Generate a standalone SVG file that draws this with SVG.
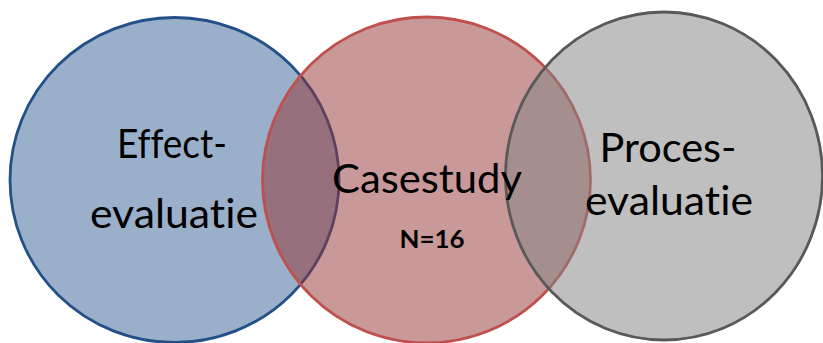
<svg xmlns="http://www.w3.org/2000/svg" width="823" height="343" viewBox="0 0 823 343">
  <style>
    .ring { stroke-width: 2.8; }
    .label { font-family: Lato, "Liberation Sans", sans-serif; fill: #000; text-anchor: middle; font-variant-ligatures: none; font-feature-settings: "liga" 0, "clig" 0; }
    .big { font-size: 41px; }
    .count { font-size: 25px; font-weight: bold; }
  </style>
  <rect width="823" height="343" fill="#ffffff"/>

  <g id="effect-evaluatie">
    <ellipse class="ring" cx="174.5" cy="180" rx="164.5" ry="162.5" fill="#9aafc9" stroke="#24508a"/>
  </g>

  <g id="casestudy">
    <ellipse class="ring" cx="426.5" cy="180" rx="164" ry="163" fill="#933131" fill-opacity="0.5" stroke="#c0504d"/>
  </g>

  <g id="proces-evaluatie">
    <ellipse class="ring" cx="664" cy="176" rx="158.5" ry="164" fill="#848484" fill-opacity="0.52" stroke="#595959"/>
  </g>

  <g id="labels">
    <text class="label big" x="172" y="158" textLength="110" lengthAdjust="spacingAndGlyphs">Effect-</text>
    <text class="label big" x="174" y="228" textLength="168" lengthAdjust="spacingAndGlyphs">evaluatie</text>
    <text class="label big" x="427" y="193" textLength="190" lengthAdjust="spacingAndGlyphs">Casestudy</text>
    <text class="label count" x="432" y="248" textLength="65" lengthAdjust="spacingAndGlyphs">N=16</text>
    <text class="label big" x="668" y="162" textLength="137" lengthAdjust="spacingAndGlyphs">Proces-</text>
    <text class="label big" x="669" y="215" textLength="168" lengthAdjust="spacingAndGlyphs">evaluatie</text>
  </g>
</svg>
